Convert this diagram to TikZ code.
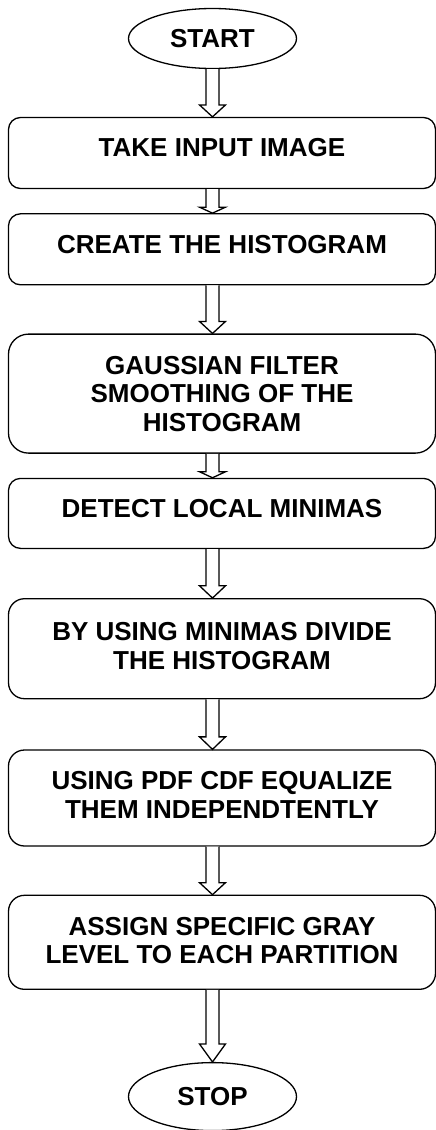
\documentclass[tikz,border=0pt]{standalone}
\usepackage{fontspec}
\setmainfont{Liberation Sans}
\usetikzlibrary{shapes.geometric,positioning,calc}

% hollow block arrow from the bottom of #1 to the top of #2, on the axis of start
\newcommand{\hollowarrow}[2]{%
  \draw[blockarrow] let \p1=(#1.south), \p2=(#2.north), \p3=(start.center),
      \n1={0.25*(\y1-\y2)} in
    (\x3-6.5pt,\y1) -- (\x3-6.5pt,\y2+\n1) -- (\x3-13pt,\y2+\n1) -- (\x3,\y2)
    -- (\x3+13pt,\y2+\n1) -- (\x3+6.5pt,\y2+\n1) -- (\x3+6.5pt,\y1);}

\begin{document}
\begin{tikzpicture}[
    x=1pt, y=1pt,
    every node/.style={font=\fontsize{26}{28.5}\selectfont\bfseries},
    stepbox/.style={rectangle, draw, line width=1.3pt, rounded corners=12pt, minimum width=427pt, align=center},
    terminal/.style={ellipse, draw, line width=1.3pt, minimum width=168pt},
    blockarrow/.style={line width=1.3pt, line join=miter, fill=white}
]
\useasboundingbox (0,0) rectangle (436,-1130);

\node[terminal, minimum height=60pt] (start) at (212.5,-38.5) {START};
\node[stepbox, minimum height=71pt, text depth=12pt] (input) at (222,-153) {TAKE INPUT IMAGE};
\node[stepbox, minimum height=71pt, text depth=10pt, below=24pt of input] (hist) {CREATE THE HISTOGRAM};
\node[stepbox, minimum height=119pt, rounded corners=20pt, below=48pt of hist] (smooth) {GAUSSIAN FILTER\\SMOOTHING OF THE\\HISTOGRAM};
\node[stepbox, minimum height=70pt, text depth=10pt, below=24pt of smooth] (minima) {DETECT LOCAL MINIMAS};
\node[stepbox, minimum height=100pt, text depth=6pt, rounded corners=16pt, below=49pt of minima] (divide) {BY USING MINIMAS DIVIDE\\THE HISTOGRAM};
\node[stepbox, minimum height=96pt, text depth=6pt, rounded corners=16pt, below=50pt of divide] (equalize) {USING PDF CDF EQUALIZE\\THEM INDEPENDTENTLY};
\node[stepbox, minimum height=94pt, text depth=4pt, rounded corners=16pt, below=48pt of equalize] (assign) {ASSIGN SPECIFIC GRAY\\LEVEL TO EACH PARTITION};
\node[terminal, minimum height=68pt, below=72pt of assign, xshift=-9.5pt] (stop) {STOP};

\hollowarrow{start}{input}
\hollowarrow{input}{hist}
\hollowarrow{hist}{smooth}
\hollowarrow{smooth}{minima}
\hollowarrow{minima}{divide}
\hollowarrow{divide}{equalize}
\hollowarrow{equalize}{assign}
\hollowarrow{assign}{stop}
\end{tikzpicture}
\end{document}
